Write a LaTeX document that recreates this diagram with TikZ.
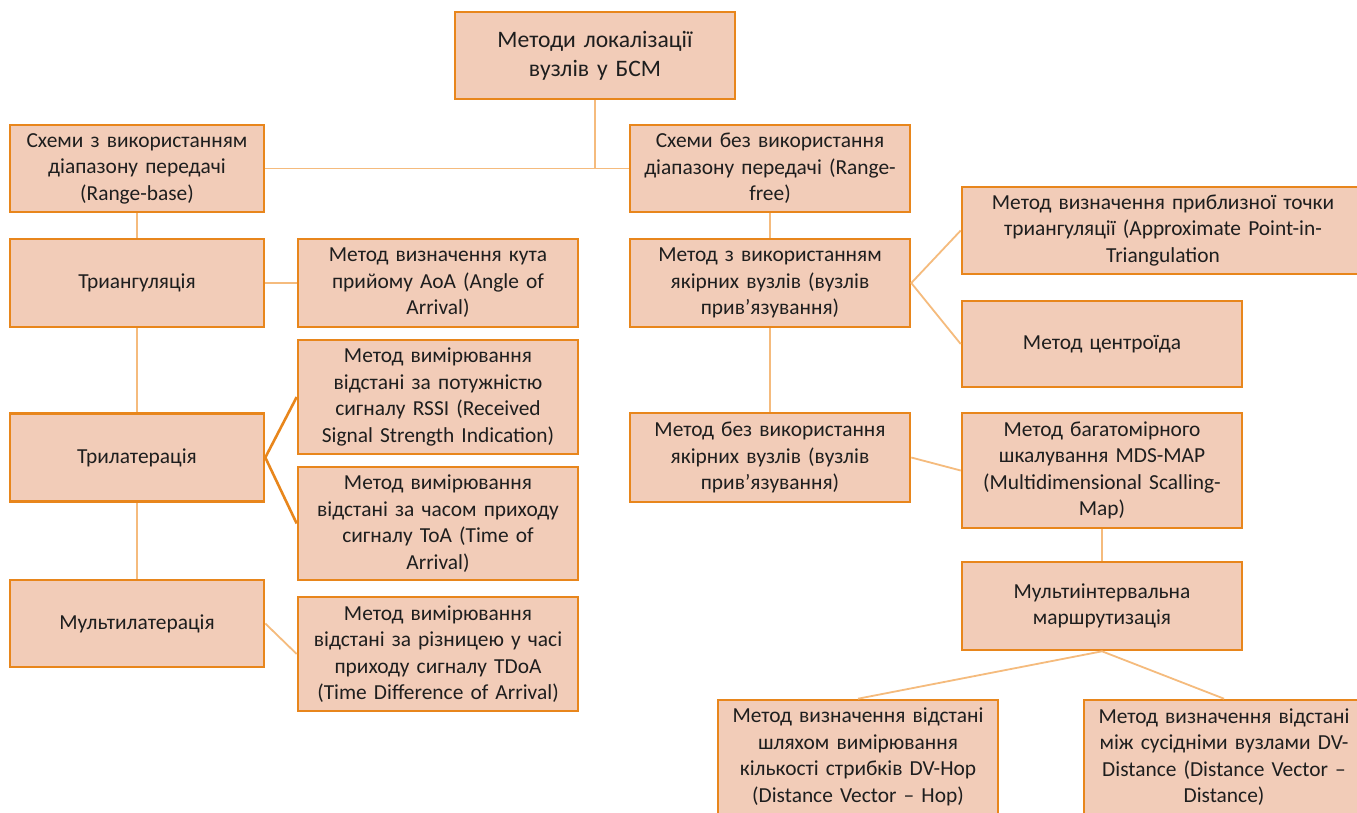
\documentclass[tikz,border=0pt]{standalone}
\usepackage{fontspec}
\setmainfont{Carlito}
\definecolor{boxfill}{RGB}{242,204,184}
\definecolor{bord}{RGB}{232,134,28}
\definecolor{conn}{RGB}{245,187,125}
\definecolor{txt}{RGB}{30,30,30}
\tikzset{
  bx/.style 2 args={draw=bord, fill=boxfill, line width=2.6pt, minimum width=#1, minimum height=#2,
     text width=#1-6, align=center, inner sep=0pt, text=txt, font=\fontsize{21.4}{26.5}\selectfont},
  ln/.style={draw=conn, line width=1.8pt},
  lnd/.style={draw=bord, line width=2.6pt},
}
\begin{document}
\begin{tikzpicture}[x=1pt,y=-1pt]
\useasboundingbox (0,0) rectangle (1357,812);
\fill[white] (0,0) rectangle (1357,812);
% nodes
\node[bx={280}{87}, font=\fontsize{23.6}{29}\selectfont] (top) at (595,55.5) {Методи локалізації\\вузлів у БСМ};
\node[bx={254}{87}] (rb) at (137,168.5) {Схеми з використанням\\діапазону передачі\\(Range-base)};
\node[bx={280}{87}] (rf) at (770,168.5) {Схеми без використання\\діапазону передачі (Range-\\free)};
\node[bx={254}{88}] (tri) at (137,283) {Триангуляція};
\node[bx={280}{88}] (aoa) at (438,283) {Метод визначення кута\\прийому AoA (Angle of\\Arrival)};
\node[bx={280}{114}] (rssi) at (438,397) {Метод вимірювання\\відстані за потужністю\\сигналу RSSI (Received\\Signal Strength Indication)};
\node[bx={254}{88}] (tril) at (137,457.5) {Трилатерація};
\node[bx={280}{113}] (toa) at (438,523.5) {Метод вимірювання\\відстані за часом приходу\\сигналу ToA (Time of\\Arrival)};
\node[bx={254}{87}] (mult) at (137,623.5) {Мультилатерація};
\node[bx={280}{114}] (tdoa) at (438,654) {Метод вимірювання\\відстані за різницею у часі\\приходу сигналу TDoA\\(Time Difference of Arrival)};
\node[bx={280}{88}] (wa) at (770,283) {Метод з використанням\\якірних вузлів (вузлів\\прив’язування)};
\node[bx={402}{87}] (apit) at (1163,230.5) {Метод визначення приблизної точки\\триангуляції (Approximate Point-in-\\Triangulation};
\node[bx={280}{86}] (cen) at (1102,344) {Метод центроїда};
\node[bx={280}{89}] (woa) at (770,457.5) {Метод без використання\\якірних вузлів (вузлів\\прив’язування)};
\node[bx={280}{115}] (mds) at (1102,470.5) {Метод багатомірного\\шкалування MDS-MAP\\(Multidimensional Scalling-\\Map)};
\node[bx={280}{88}] (mi) at (1102,606) {Мультиінтервальна\\маршрутизація};
\node[bx={280}{114}] (dvh) at (858,757) {Метод визначення відстані\\шляхом вимірювання\\кількості стрибків DV-Hop\\(Distance Vector – Hop)};
\node[bx={280}{114}] (dvd) at (1224,757) {Метод визначення відстані\\між сусідніми вузлами DV-\\Distance (Distance Vector –\\Distance)};
% connectors
\draw[ln] (top.south) -- (top.south |- rb.east);
\draw[ln] (rb.east) -- (rf.west);
\draw[ln] (rb.south) -- (tri.north);
\draw[ln] (tri.east) -- (aoa.west);
\draw[ln] (tri.south) -- (tril.north);
\draw[lnd] (rssi.west) -- (tril.east) -- (toa.west);
\draw[ln] (tril.south) -- (mult.north);
\draw[ln] (mult.east) -- (tdoa.west);
\draw[ln] (rf.south) -- (wa.north);
\draw[ln] (apit.west) -- (wa.east) -- (cen.west);
\draw[ln] (wa.south) -- (woa.north);
\draw[ln] (woa.east) -- (mds.west);
\draw[ln] (mds.south) -- (mi.north);
\draw[ln] (dvh.north) -- (mi.south) -- (dvd.north);
\end{tikzpicture}
\end{document}
